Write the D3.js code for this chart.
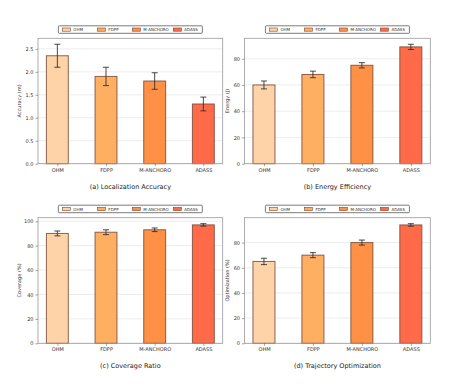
<!DOCTYPE html>
<html>
<head>
<script src="https://d3js.org/d3.v7.min.js"></script>
<style>
  body { margin: 0; background: #fff; }
  text { font-family: "DejaVu Sans", sans-serif; }
</style>
</head>
<body>
<div id="chart"></div>
<script>
// methods and colours
var methods = ["OHM", "FDPP", "M-ANCHORO", "ADASS"];
var colors = ["#ffd3a8", "#ffaf62", "#ff9146", "#ff6a48"];

// panel values
var accuracy = [2.35, 1.9, 1.8, 1.3];
var accuracyErr = [0.25, 0.2, 0.18, 0.15];
var energy = [60, 68, 75, 89];
var energyErr = [3, 2.5, 2, 2];
var coverage = [90, 91, 93, 97];
var coverageErr = [2, 2, 1.5, 1];
var optimization = [65, 70, 80, 94];
var optimizationErr = [2.5, 2, 2, 1];

var accuracyTicks = [0, 0.5, 1.0, 1.5, 2.0, 2.5];
var energyTicks = [0, 20, 40, 60, 80];
var coverageTicks = [0, 20, 40, 60, 80, 100];
var optimizationTicks = [0, 20, 40, 60, 80];

var panels = [
  { vals: accuracy, err: accuracyErr, ticks: accuracyTicks, fmt: d3.format(".1f"), ylabel: "Accuracy (m)", title: "(a) Localization Accuracy", x0: 38, x1: 222.7, y0: 38.3, y1: 163.7, lab: 17.5 },
  { vals: energy, err: energyErr, ticks: energyTicks, fmt: d3.format("d"), ylabel: "Energy (J)", title: "(b) Energy Efficiency", x0: 244.5, x1: 430.3, y0: 38.3, y1: 163.7, lab: 15.5 },
  { vals: coverage, err: coverageErr, ticks: coverageTicks, fmt: d3.format("d"), ylabel: "Coverage (%)", title: "(c) Coverage Ratio", x0: 38, x1: 222.7, y0: 217.7, y1: 343.3, lab: 17.5 },
  { vals: optimization, err: optimizationErr, ticks: optimizationTicks, fmt: d3.format("d"), ylabel: "Optimization (%)", title: "(d) Trajectory Optimization", x0: 244.5, x1: 430.3, y0: 217.7, y1: 343.3, lab: 15.5 }
];

var svg = d3.select("#chart").append("svg")
  .attr("width", 462)
  .attr("height", 391);

var barW = 0.45;

panels.forEach(function (p) {
  var g = svg.append("g");
  var w = p.x1 - p.x0, h = p.y1 - p.y0;

  var ymax = d3.max(p.vals, function (v, i) { return v + p.err[i]; }) * 1.05;
  var y = d3.scaleLinear().domain([0, ymax]).range([p.y1, p.y0]);
  var x = d3.scaleLinear().domain([-0.5 * barW - 0.05 * (3 + barW), 3 + 0.5 * barW + 0.05 * (3 + barW)]).range([p.x0, p.x1]);

  // grid
  g.selectAll(".grid").data(p.ticks).enter().append("line")
    .attr("x1", p.x0).attr("x2", p.x1)
    .attr("y1", function (d) { return y(d); }).attr("y2", function (d) { return y(d); })
    .attr("stroke", "#e9e9e9").attr("stroke-width", 0.8);

  // bars
  g.selectAll(".bar").data(p.vals).enter().append("rect")
    .attr("x", function (d, i) { return x(i - barW / 2); })
    .attr("width", function () { return x(barW) - x(0); })
    .attr("y", function (d) { return y(d); })
    .attr("height", function (d) { return y(0) - y(d); })
    .attr("fill", function (d, i) { return colors[i]; })
    .attr("stroke", "#7a4a36").attr("stroke-opacity", 0.85).attr("stroke-width", 1);

  // error bars
  p.vals.forEach(function (v, i) {
    var cx = x(i), lo = y(v - p.err[i]), hi = y(v + p.err[i]);
    g.append("line").attr("x1", cx).attr("x2", cx).attr("y1", lo).attr("y2", hi)
      .attr("stroke", "#333").attr("stroke-width", 0.9);
    [lo, hi].forEach(function (yy) {
      g.append("line").attr("x1", cx - 3).attr("x2", cx + 3).attr("y1", yy).attr("y2", yy)
        .attr("stroke", "#333").attr("stroke-width", 0.9);
    });
  });

  // frame
  g.append("rect").attr("x", p.x0).attr("y", p.y0).attr("width", w).attr("height", h)
    .attr("fill", "none").attr("stroke", "#999").attr("stroke-width", 0.8);

  // y axis
  var yAxis = g.append("g").attr("transform", "translate(" + p.x0 + ",0)")
    .call(d3.axisLeft(y).tickValues(p.ticks).tickFormat(p.fmt).tickSize(2.5).tickPadding(2));
  yAxis.select(".domain").remove();
  yAxis.selectAll("line").attr("stroke", "#666").attr("stroke-width", 0.6);
  yAxis.selectAll("text").attr("font-size", 5).attr("fill", "#333");

  // x axis
  var xAxis = g.append("g").attr("transform", "translate(0," + p.y1 + ")")
    .call(d3.axisBottom(x).tickValues([0, 1, 2, 3]).tickFormat(function (d) { return methods[d]; }).tickSize(2.5).tickPadding(2));
  xAxis.select(".domain").remove();
  xAxis.selectAll("line").attr("stroke", "#666").attr("stroke-width", 0.6);
  xAxis.selectAll("text").attr("font-size", 5).attr("fill", "#333");

  // y label
  g.append("text")
    .attr("transform", "translate(" + (p.x0 - p.lab) + "," + ((p.y0 + p.y1) / 2) + ") rotate(-90)")
    .attr("text-anchor", "middle").attr("font-size", 5).attr("fill", "#333")
    .text(p.ylabel);

  // title
  g.append("text")
    .attr("x", (p.x0 + p.x1) / 2).attr("y", p.y1 + 25)
    .attr("text-anchor", "middle").attr("font-size", 6.5).attr("fill", "#222")
    .text(p.title);

  // legend
  var lw = 144, lx = (p.x0 + p.x1) / 2 - lw / 2, ly = p.y0 - 12.5;
  var lg = g.append("g");
  lg.append("rect").attr("x", lx).attr("y", ly).attr("width", lw).attr("height", 7.5)
    .attr("rx", 1).attr("fill", "#fff").attr("stroke", "#444").attr("stroke-width", 0.7);
  var offs = [4, 39, 74, 115];
  methods.forEach(function (m, i) {
    lg.append("rect").attr("x", lx + offs[i]).attr("y", ly + 2.2).attr("width", 8).attr("height", 3.2)
      .attr("fill", colors[i]).attr("stroke", "#7a4a36").attr("stroke-width", 0.6);
    lg.append("text").attr("x", lx + offs[i] + 11).attr("y", ly + 5.4)
      .attr("font-size", 4).attr("fill", "#333").text(m);
  });
});
</script>
</body>
</html>
